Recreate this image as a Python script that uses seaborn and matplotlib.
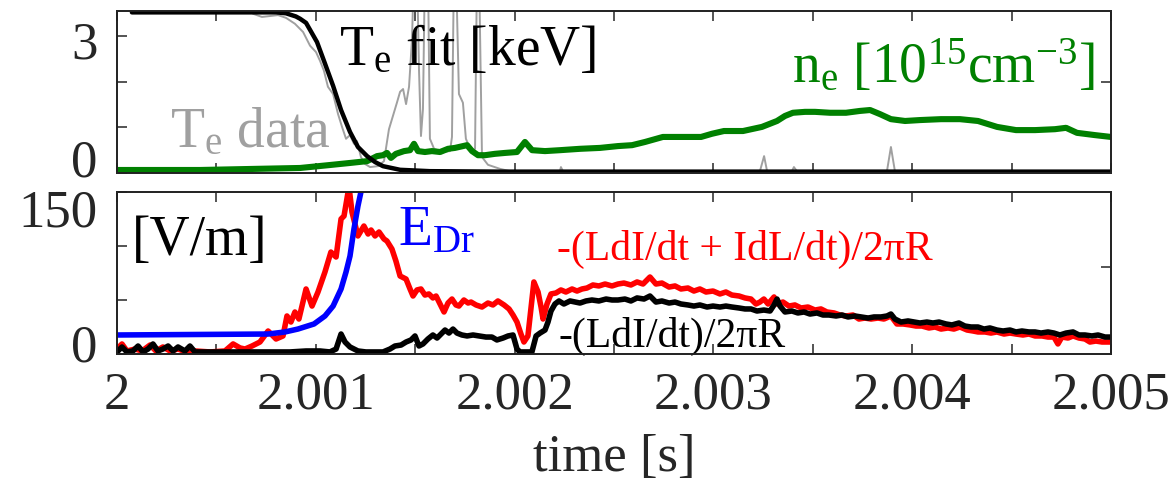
import numpy as np
import matplotlib
matplotlib.use('Agg')
import matplotlib.pyplot as plt
import matplotlib.transforms as mtransforms
import seaborn as sns

T0 = 2.0  # s ; all time arrays below are offsets after T0 in ms

# ---------------- top panel ----------------
te_fit_ms = [0.075, 0.418, 0.800, 0.850, 0.900, 0.921, 0.951, 1.006, 1.046, 1.087,
             1.127, 1.172, 1.212, 1.258, 1.298, 1.338, 1.424, 1.574, 1.927, 5.000]
te_fit_kev = [3.52, 3.52, 3.52, 3.50, 3.43, 3.38, 3.29, 2.87, 2.40, 1.91,
              1.38, 0.90, 0.57, 0.37, 0.24, 0.15, 0.07, 0.04, 0.03, 0.03]

te_data_ms = [0.684, 0.729, 0.770, 0.810, 0.850, 0.895, 0.936, 0.971, 1.001, 1.021,
              1.041, 1.061, 1.087, 1.112, 1.132, 1.152, 1.172, 1.192, 1.207, 1.227,
              1.247, 1.273, 1.313, 1.343, 1.368, 1.388, 1.408, 1.424, 1.439, 1.454,
              1.469, 1.484, 1.494, 1.509, 1.519, 1.529, 1.539, 1.549, 1.564, 1.574,
              1.595, 1.635, 1.675, 1.685, 1.695, 1.705, 1.720, 1.740, 1.755, 1.781,
              1.801, 1.811, 1.821, 1.836, 1.866, 1.927, 1.977, 2.228, 2.233, 2.243,
              3.234, 3.255, 3.270, 3.395, 3.405, 3.420, 3.873, 3.893, 3.913, 5.000]
te_data_kev = [3.49, 3.42, 3.44, 3.46, 3.40, 3.27, 3.09, 2.79, 2.65, 2.46,
               2.24, 1.89, 1.73, 1.29, 1.01, 0.75, 0.83, 0.64, 0.70, 0.35,
               0.20, 0.13, 0.15, 0.26, 0.96, 1.25, 1.54, 1.78, 1.84, 1.51,
               1.89, 2.94, 4.50, 4.50, 2.28, 0.81, 1.40, 4.50, 4.50, 0.75,
               0.53, 0.46, 0.48, 0.79, 4.50, 4.50, 1.73, 1.54, 0.75, 0.48,
               0.53, 4.50, 4.50, 0.35, 0.18, 0.09, 0.04, 0.04, 0.13, 0.04,
               0.04, 0.37, 0.04, 0.04, 0.13, 0.04, 0.04, 0.57, 0.04, 0.04]

ne_ms = [0.000, 0.418, 0.669, 0.921, 1.071, 1.172, 1.258, 1.308, 1.338, 1.358,
         1.378, 1.403, 1.444, 1.474, 1.494, 1.514, 1.549, 1.584, 1.625, 1.665,
         1.700, 1.761, 1.786, 1.816, 1.851, 1.901, 1.952, 2.012, 2.052, 2.088,
         2.153, 2.228, 2.329, 2.430, 2.520, 2.591, 2.656, 2.746, 2.832, 2.938,
         2.993, 3.053, 3.149, 3.244, 3.320, 3.360, 3.400, 3.461, 3.511, 3.587,
         3.667, 3.737, 3.788, 3.838, 3.893, 3.964, 4.039, 4.145, 4.240, 4.331,
         4.427, 4.522, 4.618, 4.718, 4.774, 4.829, 4.920, 5.000]
ne_val = [0.066, 0.066, 0.088, 0.11, 0.175, 0.22, 0.26, 0.37, 0.39, 0.44,
          0.33, 0.42, 0.48, 0.50, 0.64, 0.48, 0.46, 0.48, 0.46, 0.53,
          0.55, 0.61, 0.48, 0.39, 0.39, 0.42, 0.44, 0.46, 0.68, 0.50,
          0.48, 0.50, 0.53, 0.55, 0.59, 0.61, 0.68, 0.79, 0.79, 0.79,
          0.86, 0.92, 0.92, 1.01, 1.14, 1.25, 1.32, 1.34, 1.34, 1.32,
          1.32, 1.36, 1.38, 1.29, 1.18, 1.14, 1.16, 1.18, 1.18, 1.14,
          1.01, 0.94, 0.94, 0.96, 0.99, 0.88, 0.83, 0.79]

# ---------------- bottom panel ----------------
edr_ms = [0.000, 0.760, 0.845, 0.910, 0.991, 1.046, 1.087, 1.127, 1.152, 1.172,
          1.192, 1.212, 1.227, 1.237]
edr_val = [17.6, 18.5, 20.4, 23.1, 27.8, 35.2, 44.4, 60.2, 75.9, 90.7,
           115.7, 137.0, 150.0, 162.0]

red_ms = [0.000, 0.025, 0.050, 0.091, 0.126, 0.166, 0.196, 0.231, 0.267, 0.307,
          0.347, 0.392, 0.468, 0.543, 0.584, 0.619, 0.644, 0.679, 0.719, 0.760,
          0.800, 0.835, 0.855, 0.875, 0.895, 0.915, 0.951, 0.981, 1.011, 1.046,
          1.076, 1.102, 1.127, 1.142, 1.162, 1.167, 1.182, 1.212, 1.242, 1.263,
          1.278, 1.298, 1.318, 1.343, 1.358, 1.383, 1.403, 1.424, 1.454, 1.474,
          1.489, 1.509, 1.529, 1.549, 1.569, 1.589, 1.605, 1.625, 1.645, 1.665,
          1.685, 1.705, 1.720, 1.745, 1.766, 1.781, 1.806, 1.836, 1.866, 1.891,
          1.916, 1.947, 1.972, 1.992, 2.012, 2.032, 2.047, 2.067, 2.082, 2.097,
          2.118, 2.133, 2.143, 2.163, 2.183, 2.208, 2.233, 2.258, 2.289, 2.314,
          2.339, 2.364, 2.394, 2.424, 2.455, 2.490, 2.520, 2.550, 2.585, 2.616,
          2.646, 2.681, 2.711, 2.741, 2.777, 2.807, 2.837, 2.872, 2.902, 2.932,
          2.963, 2.998, 3.033, 3.063, 3.093, 3.129, 3.159, 3.189, 3.214, 3.234,
          3.254, 3.275, 3.305, 3.320, 3.350, 3.380, 3.410, 3.441, 3.476, 3.511,
          3.541, 3.571, 3.607, 3.637, 3.667, 3.702, 3.732, 3.762, 3.793, 3.828,
          3.858, 3.893, 3.923, 3.954, 3.989, 4.019, 4.049, 4.084, 4.115, 4.145,
          4.180, 4.210, 4.240, 4.276, 4.306, 4.331, 4.366, 4.396, 4.426, 4.462,
          4.492, 4.522, 4.557, 4.587, 4.618, 4.653, 4.683, 4.713, 4.733, 4.753,
          4.784, 4.809, 4.839, 4.869, 4.894, 4.924, 4.955, 5.000]
red_val = [4.6, 9.3, 2.8, 4.6, 2.8, 8.3, 2.8, 6.5, 2.8, 4.6,
           1.9, 2.8, 1.9, 2.8, 9.3, 5.6, 4.6, 7.4, 11.1, 21.3,
           13.9, 16.7, 35.2, 29.6, 38.9, 32.4, 60.2, 44.4, 57.4, 75.9,
           94.4, 89.8, 125.0, 127.8, 150.0, 155.0, 131.5, 109.3, 118.5, 111.1,
           114.8, 109.3, 113.0, 106.5, 104.6, 97.2, 86.1, 72.2, 69.4, 60.2,
           53.7, 59.3, 60.2, 54.6, 55.6, 51.9, 53.7, 46.3, 38.9, 47.2,
           50.9, 45.4, 44.4, 50.0, 47.2, 48.1, 45.4, 43.5, 47.2, 45.4,
           49.1, 45.4, 41.7, 36.1, 29.6, 18.5, 11.1, 16.7, 41.7, 66.7,
           57.4, 43.5, 32.4, 46.3, 55.6, 56.5, 59.3, 57.4, 60.2, 58.3,
           60.2, 61.1, 63.9, 63.0, 64.8, 63.0, 64.8, 65.7, 63.9, 66.7,
           64.8, 71.3, 64.8, 65.7, 62.0, 63.0, 60.2, 61.1, 58.3, 60.2,
           57.4, 58.3, 55.6, 57.4, 54.6, 53.7, 51.9, 50.9, 46.3, 48.1,
           50.9, 46.3, 52.8, 46.3, 48.1, 44.4, 45.4, 42.6, 43.5, 40.7,
           41.7, 38.9, 38.0, 36.1, 35.2, 36.1, 32.4, 33.3, 32.4, 33.3,
           32.4, 35.2, 27.8, 27.8, 26.9, 25.9, 25.9, 24.1, 25.0, 23.1,
           24.1, 23.1, 25.0, 22.2, 21.3, 20.4, 20.4, 19.4, 20.4, 18.5,
           19.4, 18.5, 17.6, 18.5, 16.7, 16.7, 15.7, 15.7, 9.3, 15.7,
           14.8, 16.7, 14.8, 13.9, 11.1, 12.0, 11.1, 11.1]

blk_ms = [0.000, 0.025, 0.050, 0.080, 0.106, 0.131, 0.156, 0.181, 0.206, 0.231,
          0.257, 0.282, 0.307, 0.342, 0.367, 0.392, 0.468, 0.568, 0.669, 0.770,
          0.870, 0.951, 1.021, 1.071, 1.102, 1.127, 1.147, 1.172, 1.212, 1.252,
          1.338, 1.373, 1.398, 1.429, 1.454, 1.479, 1.499, 1.519, 1.539, 1.564,
          1.589, 1.610, 1.630, 1.650, 1.670, 1.690, 1.710, 1.735, 1.761, 1.791,
          1.821, 1.856, 1.886, 1.911, 1.942, 1.967, 1.992, 2.012, 2.027, 2.067,
          2.087, 2.108, 2.128, 2.153, 2.168, 2.183, 2.203, 2.223, 2.248, 2.279,
          2.304, 2.329, 2.359, 2.389, 2.424, 2.460, 2.490, 2.520, 2.555, 2.585,
          2.616, 2.651, 2.681, 2.711, 2.741, 2.777, 2.807, 2.837, 2.872, 2.902,
          2.932, 2.968, 2.998, 3.033, 3.063, 3.093, 3.129, 3.159, 3.189, 3.219,
          3.254, 3.285, 3.305, 3.320, 3.335, 3.360, 3.395, 3.425, 3.456, 3.486,
          3.521, 3.551, 3.581, 3.617, 3.647, 3.677, 3.712, 3.742, 3.778, 3.808,
          3.843, 3.873, 3.893, 3.913, 3.944, 3.979, 4.009, 4.039, 4.074, 4.104,
          4.135, 4.170, 4.200, 4.235, 4.265, 4.296, 4.331, 4.361, 4.391, 4.426,
          4.457, 4.492, 4.522, 4.552, 4.587, 4.618, 4.648, 4.683, 4.713, 4.743,
          4.774, 4.809, 4.839, 4.869, 4.904, 4.935, 4.970, 5.000]
blk_val = [1.9, 6.5, 1.9, 2.8, 7.4, 1.9, 4.6, 9.3, 2.8, 4.6,
           7.4, 2.8, 6.5, 2.8, 7.4, 1.9, 1.9, 1.9, 1.9, 1.9,
           1.9, 2.8, 2.8, 1.9, 4.6, 18.5, 11.1, 6.5, 2.8, 1.9,
           1.9, 4.6, 7.4, 8.3, 11.1, 13.0, 16.7, 7.4, 9.3, 13.9,
           17.6, 14.8, 18.5, 22.2, 19.4, 23.1, 19.4, 17.6, 16.7, 17.6,
           16.7, 15.7, 15.7, 13.0, 14.8, 16.7, 17.6, 4.6, 1.9, 1.9,
           1.9, 16.7, 19.4, 22.2, 29.6, 39.8, 46.3, 49.1, 46.3, 49.1,
           48.1, 47.2, 49.1, 50.0, 49.1, 50.9, 50.0, 50.0, 50.9, 49.1,
           51.9, 50.9, 53.7, 48.1, 49.1, 47.2, 48.1, 46.3, 45.4, 44.4,
           45.4, 43.5, 44.4, 43.5, 44.4, 43.5, 42.6, 41.7, 41.7, 39.8,
           40.7, 39.8, 45.4, 50.9, 44.4, 38.9, 39.8, 38.0, 38.9, 37.0,
           38.0, 36.1, 36.1, 35.2, 36.1, 34.3, 35.2, 34.3, 33.3, 34.3,
           34.3, 35.2, 37.0, 32.4, 29.6, 30.6, 29.6, 28.7, 29.6, 28.7,
           29.6, 27.8, 26.9, 28.7, 25.9, 25.0, 25.0, 23.1, 24.1, 22.2,
           21.3, 22.2, 20.4, 21.3, 20.4, 20.4, 19.4, 20.4, 19.4, 17.6,
           19.4, 20.4, 17.6, 17.6, 16.7, 17.6, 15.7, 15.7]

# ---------------- axes definitions ----------------
x_limits = (2.0, 2.005)
xtick_values = [2.000, 2.001, 2.002, 2.003, 2.004, 2.005]
xtick_labels = ['2', '2.001', '2.002', '2.003', '2.004', '2.005']
xtick_minor = [2.0005, 2.0015, 2.0025, 2.0035, 2.0045]

top_ylim = (0.0, 3.55)
top_ytick_values = [0, 3]
top_ytick_labels = ['0', '3']
top_ytick_minor = [1, 2]
top_right_ticks = [2]

bot_ylim = (0.0, 150.0)
bot_ytick_values = [0, 150]
bot_ytick_labels = ['0', '150']
bot_ytick_minor = [50, 100]
bot_right_ticks = [81]

# ---------------- styling ----------------
sns.set_theme(style='ticks')
plt.rcParams['font.family'] = ['Liberation Serif', 'DejaVu Serif']
plt.rcParams['mathtext.fontset'] = 'custom'
plt.rcParams['mathtext.rm'] = 'Liberation Serif'
plt.rcParams['mathtext.it'] = 'Liberation Serif:italic'
plt.rcParams['mathtext.bf'] = 'Liberation Serif:bold'
plt.rcParams['axes.linewidth'] = 1.2

TICK_FS = 38
TXT_FS = 40
SMALL_FS = 30

fig = plt.figure(figsize=(11.75, 4.85), dpi=100)
ax_top = fig.add_axes([117 / 1175, 1 - 174 / 485, 994 / 1175, 162 / 485])
ax_bot = fig.add_axes([117 / 1175, 1 - 355 / 485, 994 / 1175, 162 / 485])


def to_t(ms):
    return T0 + np.asarray(ms) / 1000.0


# top panel lines
sns.lineplot(x=to_t(te_data_ms), y=te_data_kev, ax=ax_top, color='#a0a0a0',
             linewidth=1.4, estimator=None, sort=False)
sns.lineplot(x=to_t(ne_ms), y=ne_val, ax=ax_top, color='#008000',
             linewidth=4.4, estimator=None, sort=False)
sns.lineplot(x=to_t(te_fit_ms), y=te_fit_kev, ax=ax_top, color='black',
             linewidth=3.2, estimator=None, sort=False)

# bottom panel lines
sns.lineplot(x=to_t(red_ms), y=red_val, ax=ax_bot, color='#ff0000',
             linewidth=4.0, estimator=None, sort=False)
sns.lineplot(x=to_t(blk_ms), y=blk_val, ax=ax_bot, color='black',
             linewidth=4.0, estimator=None, sort=False)
sns.lineplot(x=to_t(edr_ms), y=edr_val, ax=ax_bot, color='#0000ff',
             linewidth=4.0, estimator=None, sort=False)


def style_axis(ax, ylim, yt, ytl, ymin, right_ticks, show_xlabels):
    ax.set_xlim(*x_limits)
    ax.set_ylim(*ylim)
    ax.set_xticks(xtick_values, xtick_labels if show_xlabels else [''] * len(xtick_values))
    ax.set_xticks(xtick_minor, minor=True)
    ax.set_yticks(yt, ytl)
    ax.set_yticks(ymin, minor=True)
    ax.set_xlabel('')
    ax.set_ylabel('')
    ax.tick_params(axis='x', which='both', direction='in', length=7, width=1.1,
                   top=True, bottom=True, labelsize=TICK_FS, pad=12,
                   labelbottom=show_xlabels)
    ax.tick_params(axis='y', which='both', direction='in', length=7, width=1.1,
                   left=True, right=False, labelsize=TICK_FS, pad=14)
    for s in ax.spines.values():
        s.set_linewidth(1.2)
        s.set_color('black')
    axr = ax.twinx()
    axr.set_ylim(*ylim)
    axr.set_yticks(right_ticks, [''] * len(right_ticks))
    axr.tick_params(axis='y', direction='in', length=7, width=1.1, right=True)
    for s in axr.spines.values():
        s.set_linewidth(1.2)
    return axr


style_axis(ax_top, top_ylim, top_ytick_values, top_ytick_labels, top_ytick_minor,
           top_right_ticks, False)
style_axis(ax_bot, bot_ylim, bot_ytick_values, bot_ytick_labels, bot_ytick_minor,
           bot_right_ticks, True)


def nudge(ax, shifts_px):
    for lab, dy in zip(ax.get_yticklabels(), shifts_px):
        lab.set_transform(lab.get_transform() +
                          mtransforms.ScaledTranslation(0, dy / 100.0, fig.dpi_scale_trans))


nudge(ax_top, [16, -3])
nudge(ax_bot, [12, -15])

# annotations (axes-fraction positions)
ax_top.text(0.223, 0.673, r'T$_\mathregular{e}$ fit [keV]', transform=ax_top.transAxes,
            fontsize=TXT_FS, color='black', ha='left', va='baseline')
ax_top.text(0.053, 0.167, r'T$_\mathregular{e}$ data', transform=ax_top.transAxes,
            fontsize=TXT_FS, color='#a0a0a0', ha='left', va='baseline')
ax_top.text(0.679, 0.562, r'n$_\mathregular{e}$ [10$^\mathregular{15}$cm$^\mathregular{-3}$]',
            transform=ax_top.transAxes, fontsize=TXT_FS, color='#008000',
            ha='left', va='baseline')

ax_bot.text(0.015, 0.617, '[V/m]', transform=ax_bot.transAxes,
            fontsize=TXT_FS, color='black', ha='left', va='baseline')
ax_bot.text(0.283, 0.679, r'E$_\mathregular{Dr}$', transform=ax_bot.transAxes,
            fontsize=TXT_FS, color='#0000ff', ha='left', va='baseline')
ax_bot.text(0.443, 0.586, '-(LdI/dt + IdL/dt)/2\u03c0R', transform=ax_bot.transAxes,
            fontsize=SMALL_FS, color='#ff0000', ha='left', va='baseline')
ax_bot.text(0.444, 0.049, '-(LdI/dt)/2\u03c0R', transform=ax_bot.transAxes,
            fontsize=SMALL_FS, color='black', ha='left', va='baseline')

fig.text(614 / 1175, 1 - 458 / 485, 'time [s]', fontsize=TICK_FS, ha='center', va='center')

fig.savefig('out.png', dpi=100)
